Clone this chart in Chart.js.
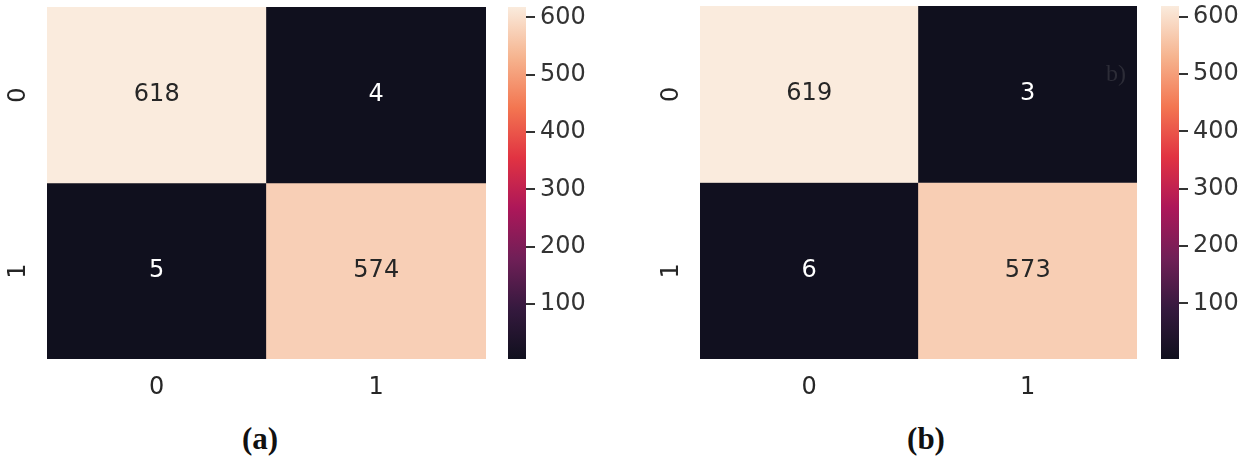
<!DOCTYPE html>
<html>
<head>
<meta charset="utf-8">
<script src="https://cdn.jsdelivr.net/npm/chart.js@4.4.1/dist/chart.umd.min.js"></script>
<style>
    body { margin: 0; background: #fff; width: 1250px; height: 462px; position: relative; overflow: hidden; }
    .box { position: absolute; top: 0; height: 410px; }
    .caption { position: absolute; top: 421px; font: bold 31px "Liberation Serif", serif; color: #111; transform: translateX(-50%); }
    .stray { position: absolute; left: 1106px; top: 60px; font: 24px "Liberation Serif", serif; color: #2c2c37; }
</style>
</head>
<body>
<div class="box" style="left:0;width:500px"><canvas id="heatA"></canvas></div>
<div class="box" style="left:500px;width:110px"><canvas id="barA"></canvas></div>
<div class="box" style="left:640px;width:510px"><canvas id="heatB"></canvas></div>
<div class="box" style="left:1150px;width:100px"><canvas id="barB"></canvas></div>
<div class="caption" style="left:260px">(a)</div>
<div class="caption" style="left:926px">(b)</div>
<div class="stray">b)</div>
<script>
const rowLabels = ['0', '1'];
const colLabels = ['0', '1'];
const matrixA = [[618, 4], [5, 574]];
const matrixB = [[619, 3], [6, 573]];
const colorbarTicks = [100, 200, 300, 400, 500, 600];

// seaborn "rocket" colour map, sampled
const rocket = [
    [16, 16, 30], [53, 25, 62], [112, 31, 87], [173, 23, 89],
    [225, 51, 66], [243, 118, 81], [246, 180, 143], [250, 235, 221]
];

function rocketColor(t) {
    t = Math.max(0, Math.min(1, t));
    const pos = t * (rocket.length - 1);
    const i = Math.min(Math.floor(pos), rocket.length - 2);
    const f = pos - i;
    return rocket[i].map((v, k) => Math.round(v + (rocket[i + 1][k] - v) * f));
}

function rgb(c) {
    return 'rgb(' + c[0] + ',' + c[1] + ',' + c[2] + ')';
}

const tickFont = { family: 'DejaVu Sans', size: 24 };
const textColor = '#262626';

// writes the numbers in the cells and the rotated row labels
const cellText = {
    id: 'cellText',
    afterDatasetsDraw(chart) {
        const ctx = chart.ctx;
        const { matrix, vmin, vmax } = chart.options.plugins.cellText;
        ctx.save();
        ctx.font = '24px "DejaVu Sans"';
        ctx.textAlign = 'center';
        ctx.textBaseline = 'middle';
        chart.data.datasets.forEach((ds, r) => {
            chart.getDatasetMeta(r).data.forEach((el, c) => {
                const v = matrix[r][c];
                const col = rocketColor((v - vmin) / (vmax - vmin));
                const lum = 0.299 * col[0] + 0.587 * col[1] + 0.114 * col[2];
                ctx.fillStyle = lum > 128 ? textColor : '#ffffff';
                ctx.fillText(String(v), el.x, (el.y + el.base) / 2);
            });
        });
        const y = chart.scales.y;
        ctx.fillStyle = textColor;
        rowLabels.forEach((lab, r) => {
            ctx.save();
            ctx.translate(chart.chartArea.left - 28, y.getPixelForValue(r + 0.5));
            ctx.rotate(-Math.PI / 2);
            ctx.fillText(lab, 0, 0);
            ctx.restore();
        });
        ctx.restore();
    }
};

function makeHeatmap(id, matrix, padLeft, padRight, padTop) {
    const flat = matrix.flat();
    const vmin = Math.min(...flat);
    const vmax = Math.max(...flat);
    const datasets = rowLabels.map((lab, r) => ({
        label: 'row ' + lab,
        data: colLabels.map(() => [r, r + 1]),
        backgroundColor: matrix[r].map(v => rgb(rocketColor((v - vmin) / (vmax - vmin)))),
        borderWidth: 0,
        grouped: false,
        barPercentage: 1,
        categoryPercentage: 1
    }));
    return new Chart(document.getElementById(id), {
        type: 'bar',
        data: { labels: colLabels, datasets: datasets },
        options: {
            responsive: true,
            maintainAspectRatio: false,
            animation: false,
            layout: { padding: { left: padLeft, right: padRight, top: padTop, bottom: 0 } },
            plugins: {
                legend: { display: false },
                tooltip: { enabled: false },
                cellText: { matrix: matrix, vmin: vmin, vmax: vmax }
            },
            scales: {
                x: {
                    grid: { display: false, drawTicks: false },
                    border: { display: false },
                    ticks: { font: tickFont, color: textColor, padding: 14 },
                    afterFit: (scale) => { scale.height = 51; }
                },
                y: { display: false, min: 0, max: rowLabels.length, reverse: true }
            }
        },
        plugins: [cellText]
    });
}

function makeColorbar(id, matrix, padLeft, barWidth, boxWidth, padTop) {
    const flat = matrix.flat();
    const vmin = Math.min(...flat);
    const vmax = Math.max(...flat);
    return new Chart(document.getElementById(id), {
        type: 'bar',
        data: {
            labels: [''],
            datasets: [{
                data: [[vmin, vmax]],
                borderWidth: 0,
                barPercentage: 1,
                categoryPercentage: 1,
                backgroundColor: (context) => {
                    const area = context.chart.chartArea;
                    if (!area) return '#000';
                    const g = context.chart.ctx.createLinearGradient(0, area.bottom, 0, area.top);
                    rocket.forEach((c, i) => g.addColorStop(i / (rocket.length - 1), rgb(c)));
                    return g;
                }
            }]
        },
        options: {
            responsive: true,
            maintainAspectRatio: false,
            animation: false,
            layout: { padding: { left: padLeft, right: 0, top: padTop, bottom: 51 } },
            plugins: { legend: { display: false }, tooltip: { enabled: false } },
            scales: {
                x: { display: false },
                y: {
                    position: 'right',
                    min: vmin,
                    max: vmax,
                    afterBuildTicks: (scale) => { scale.ticks = colorbarTicks.map(v => ({ value: v })); },
                    afterFit: (scale) => {
                        scale.width = boxWidth - padLeft - barWidth;
                        scale.paddingTop = 0;
                        scale.paddingBottom = 0;
                    },
                    grid: { drawOnChartArea: false, drawTicks: true, tickLength: 9, color: '#333', lineWidth: 2 },
                    border: { display: false },
                    ticks: { font: tickFont, color: '#333', padding: 5 }
                }
            }
        }
    });
}

document.addEventListener('DOMContentLoaded', function () {
    makeHeatmap('heatA', matrixA, 47, 14, 7);
    makeColorbar('barA', matrixA, 8, 18, 110, 7);
    makeHeatmap('heatB', matrixB, 60, 13, 6);
    makeColorbar('barB', matrixB, 11, 18, 100, 6);
});
</script>
</body>
</html>
